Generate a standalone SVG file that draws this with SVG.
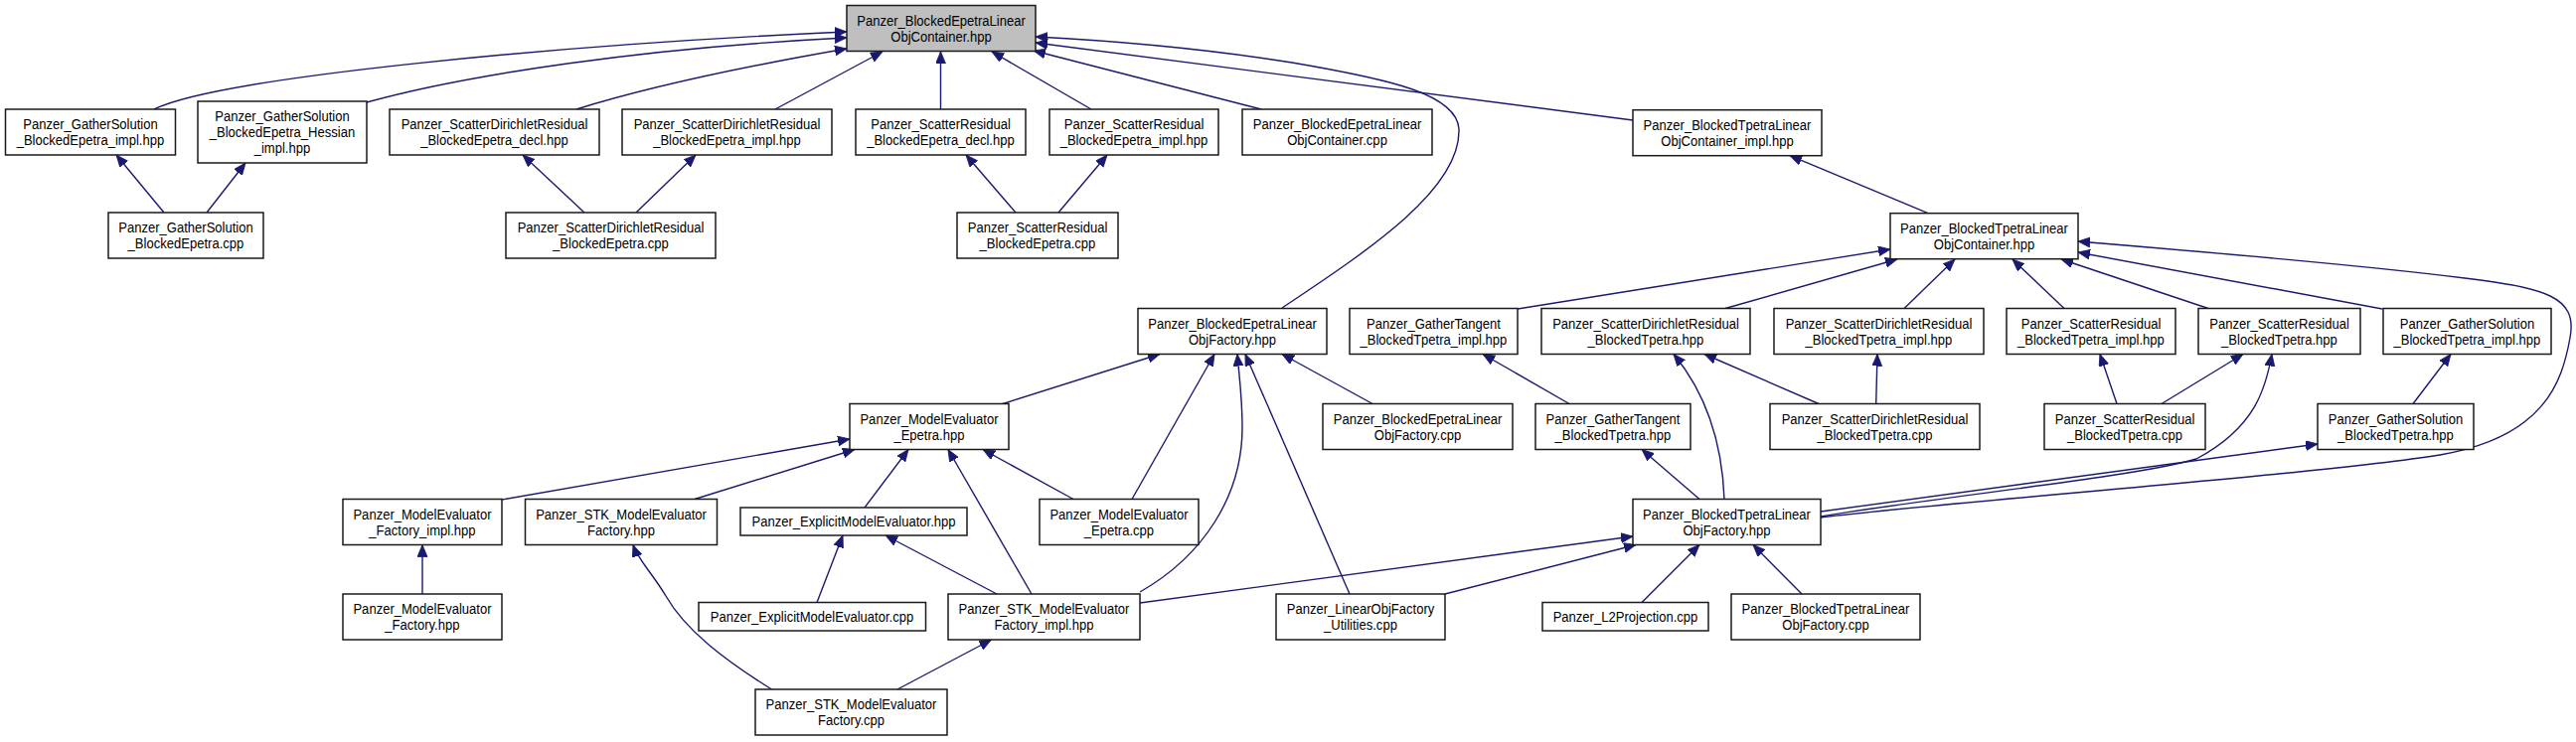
<svg xmlns="http://www.w3.org/2000/svg" width="2592" height="747" viewBox="0 0 2592 747">
<defs>
<style>
.n rect{fill:#ffffff;stroke:#1a1a1a;stroke-width:1.5}
.n.root rect{fill:#bfbfbf}
.n text{font-family:"Liberation Sans",Arial,sans-serif;font-size:15px;fill:#000;text-anchor:middle;transform-box:fill-box;transform-origin:center;transform:scaleX(0.87)}
.e path{fill:none;stroke:#191970;stroke-width:1.4;marker-end:url(#ah)}
</style>
<marker id="ah" markerUnits="userSpaceOnUse" markerWidth="13" markerHeight="11" refX="12" refY="5" orient="auto" viewBox="0 0 13 11"><path d="M0,0 L12,5 L0,10 z" fill="#191970" stroke="#191970" stroke-width="0.8"/></marker>
</defs>
<rect width="2592" height="747" fill="#ffffff"/>
<g id="connectors" class="e">
<path d="M155,110 C220,78 560,45 852,32"/>
<path d="M369,103 C470,75 650,48 852,38"/>
<path d="M580,110 C660,85 760,65 852,49"/>
<path d="M780,110 L888,52"/>
<path d="M946.5,110 L946.5,52"/>
<path d="M1098,110 L998,52"/>
<path d="M1269,110 L1040,51"/>
<path d="M1643,121 L1042,43"/>
<path d="M1290,310 C1380,250 1470,190 1468,130 C1466,95 1400,80 1300,63 C1200,47 1100,40 1042,37"/>
<path d="M165,214 L117,156"/>
<path d="M208,214 L247,164"/>
<path d="M588,214 L526,156"/>
<path d="M640,214 L700,156"/>
<path d="M1022,214 L972,156"/>
<path d="M1065,214 L1114,156"/>
<path d="M1940,214.7 L1801,156.7"/>
<path d="M1527,311 L1902,251"/>
<path d="M1736,310.5 L1909,261"/>
<path d="M1916,310.5 L1967,261"/>
<path d="M2077,310.5 L2025,261"/>
<path d="M2222,310.5 L2074,261"/>
<path d="M2397,311 L2091,254"/>
<path d="M1832,521 C1960,505 2330,478 2455,458 C2560,440 2578,385 2586,340 C2594,298 2560,290 2480,280 C2370,266 2200,252 2091,243"/>
<path d="M1009,406.5 L1167,356.5"/>
<path d="M1381,406.5 L1290,356.5"/>
<path d="M1139,502.5 L1222,356.5"/>
<path d="M1147,596 C1210,560 1250,500 1250,430 C1250,400 1247,380 1245,356.5"/>
<path d="M1358,598 L1253,356.5"/>
<path d="M1579,406.5 L1492,356.5"/>
<path d="M1735,502.5 C1733,450 1720,400 1684,356.5"/>
<path d="M1830,406.5 L1715,356.5"/>
<path d="M1887.7,406.5 L1889,356.5"/>
<path d="M2130,406.5 L2113,356.5"/>
<path d="M2175,406.5 L2257,356.5"/>
<path d="M1832,520 C1950,500 2150,480 2210,462 C2270,430 2280,390 2286,356.5"/>
<path d="M2428,406.5 L2466,356.5"/>
<path d="M1710,502.5 L1652,452.5"/>
<path d="M1832,515 L2332,447"/>
<path d="M505,503 L855,442"/>
<path d="M699,502.5 L860,452.5"/>
<path d="M870,511 L914,452.5"/>
<path d="M1038,598 L954,452.5"/>
<path d="M1080,502.5 L989,452.5"/>
<path d="M425,598 L425,548.5"/>
<path d="M776.5,694 C730,665 690,635 670,600 C655,575 643,565 637,548.5"/>
<path d="M822,606.5 L848,539"/>
<path d="M1003,598 L891,539"/>
<path d="M903,694 L997.5,644"/>
<path d="M1147,607 L1643,540"/>
<path d="M1454,598 L1646,548.5"/>
<path d="M1652,606.5 L1710,548.5"/>
<path d="M1813,598 L1764,548.5"/>
</g>
<g id="n0" class="n root"><rect x="852" y="5.5" width="190" height="46"/><text x="947" y="26">Panzer_BlockedEpetraLinear</text><text x="947" y="42">ObjContainer.hpp</text></g>
<g id="n1" class="n"><rect x="5.5" y="110" width="171" height="46"/><text x="91" y="130.5">Panzer_GatherSolution</text><text x="91" y="146.5">_BlockedEpetra_impl.hpp</text></g>
<g id="n2" class="n"><rect x="199" y="102" width="170" height="62"/><text x="284" y="122.5">Panzer_GatherSolution</text><text x="284" y="138.5">_BlockedEpetra_Hessian</text><text x="284" y="154.5">_impl.hpp</text></g>
<g id="n3" class="n"><rect x="392" y="110" width="211" height="46"/><text x="497.5" y="130.5">Panzer_ScatterDirichletResidual</text><text x="497.5" y="146.5">_BlockedEpetra_decl.hpp</text></g>
<g id="n4" class="n"><rect x="626" y="110" width="211" height="46"/><text x="731.5" y="130.5">Panzer_ScatterDirichletResidual</text><text x="731.5" y="146.5">_BlockedEpetra_impl.hpp</text></g>
<g id="n5" class="n"><rect x="861" y="110" width="171" height="46"/><text x="946.5" y="130.5">Panzer_ScatterResidual</text><text x="946.5" y="146.5">_BlockedEpetra_decl.hpp</text></g>
<g id="n6" class="n"><rect x="1056" y="110" width="170" height="46"/><text x="1141" y="130.5">Panzer_ScatterResidual</text><text x="1141" y="146.5">_BlockedEpetra_impl.hpp</text></g>
<g id="n7" class="n"><rect x="1250" y="110" width="191" height="46"/><text x="1345.5" y="130.5">Panzer_BlockedEpetraLinear</text><text x="1345.5" y="146.5">ObjContainer.cpp</text></g>
<g id="n8" class="n"><rect x="1643" y="110.7" width="190" height="46"/><text x="1738" y="131.2">Panzer_BlockedTpetraLinear</text><text x="1738" y="147.2">ObjContainer_impl.hpp</text></g>
<g id="n9" class="n"><rect x="109" y="214" width="156" height="46"/><text x="187" y="234.5">Panzer_GatherSolution</text><text x="187" y="250.5">_BlockedEpetra.cpp</text></g>
<g id="n10" class="n"><rect x="509" y="214" width="211" height="46"/><text x="614.5" y="234.5">Panzer_ScatterDirichletResidual</text><text x="614.5" y="250.5">_BlockedEpetra.cpp</text></g>
<g id="n11" class="n"><rect x="963" y="214" width="162" height="46"/><text x="1044" y="234.5">Panzer_ScatterResidual</text><text x="1044" y="250.5">_BlockedEpetra.cpp</text></g>
<g id="n12" class="n"><rect x="1902" y="214.7" width="189" height="46"/><text x="1996.5" y="235.2">Panzer_BlockedTpetraLinear</text><text x="1996.5" y="251.2">ObjContainer.hpp</text></g>
<g id="n13" class="n"><rect x="1145" y="310.5" width="190" height="46"/><text x="1240" y="331">Panzer_BlockedEpetraLinear</text><text x="1240" y="347">ObjFactory.hpp</text></g>
<g id="n14" class="n"><rect x="1358" y="310.5" width="169" height="46"/><text x="1442.5" y="331">Panzer_GatherTangent</text><text x="1442.5" y="347">_BlockedTpetra_impl.hpp</text></g>
<g id="n15" class="n"><rect x="1551" y="310.5" width="210" height="46"/><text x="1656" y="331">Panzer_ScatterDirichletResidual</text><text x="1656" y="347">_BlockedTpetra.hpp</text></g>
<g id="n16" class="n"><rect x="1785" y="310.5" width="211" height="46"/><text x="1890.5" y="331">Panzer_ScatterDirichletResidual</text><text x="1890.5" y="347">_BlockedTpetra_impl.hpp</text></g>
<g id="n17" class="n"><rect x="2019" y="310.5" width="170" height="46"/><text x="2104" y="331">Panzer_ScatterResidual</text><text x="2104" y="347">_BlockedTpetra_impl.hpp</text></g>
<g id="n18" class="n"><rect x="2212" y="310.5" width="163" height="46"/><text x="2293.5" y="331">Panzer_ScatterResidual</text><text x="2293.5" y="347">_BlockedTpetra.hpp</text></g>
<g id="n19" class="n"><rect x="2398" y="310.5" width="169" height="46"/><text x="2482.5" y="331">Panzer_GatherSolution</text><text x="2482.5" y="347">_BlockedTpetra_impl.hpp</text></g>
<g id="n20" class="n"><rect x="855" y="406.5" width="160" height="46"/><text x="935" y="427">Panzer_ModelEvaluator</text><text x="935" y="443">_Epetra.hpp</text></g>
<g id="n21" class="n"><rect x="1331" y="406.5" width="191" height="46"/><text x="1426.5" y="427">Panzer_BlockedEpetraLinear</text><text x="1426.5" y="443">ObjFactory.cpp</text></g>
<g id="n22" class="n"><rect x="1545" y="406.5" width="156" height="46"/><text x="1623" y="427">Panzer_GatherTangent</text><text x="1623" y="443">_BlockedTpetra.hpp</text></g>
<g id="n23" class="n"><rect x="1781" y="406.5" width="211" height="46"/><text x="1886.5" y="427">Panzer_ScatterDirichletResidual</text><text x="1886.5" y="443">_BlockedTpetra.cpp</text></g>
<g id="n24" class="n"><rect x="2057" y="406.5" width="162" height="46"/><text x="2138" y="427">Panzer_ScatterResidual</text><text x="2138" y="443">_BlockedTpetra.cpp</text></g>
<g id="n25" class="n"><rect x="2332" y="406.5" width="157" height="46"/><text x="2410.5" y="427">Panzer_GatherSolution</text><text x="2410.5" y="443">_BlockedTpetra.hpp</text></g>
<g id="n26" class="n"><rect x="345" y="502.5" width="160" height="46"/><text x="425" y="523">Panzer_ModelEvaluator</text><text x="425" y="539">_Factory_impl.hpp</text></g>
<g id="n27" class="n"><rect x="528.5" y="502.5" width="193" height="46"/><text x="625" y="523">Panzer_STK_ModelEvaluator</text><text x="625" y="539">Factory.hpp</text></g>
<g id="n28" class="n"><rect x="745" y="511" width="228" height="28"/><text x="859" y="530.5">Panzer_ExplicitModelEvaluator.hpp</text></g>
<g id="n29" class="n"><rect x="1046" y="502.5" width="160" height="46"/><text x="1126" y="523">Panzer_ModelEvaluator</text><text x="1126" y="539">_Epetra.cpp</text></g>
<g id="n30" class="n"><rect x="1643" y="502.5" width="189" height="46"/><text x="1737.5" y="523">Panzer_BlockedTpetraLinear</text><text x="1737.5" y="539">ObjFactory.hpp</text></g>
<g id="n31" class="n"><rect x="345" y="598" width="160" height="46"/><text x="425" y="618.5">Panzer_ModelEvaluator</text><text x="425" y="634.5">_Factory.hpp</text></g>
<g id="n32" class="n"><rect x="703" y="606.5" width="228.5" height="28.5"/><text x="817" y="626">Panzer_ExplicitModelEvaluator.cpp</text></g>
<g id="n33" class="n"><rect x="954" y="598" width="193" height="46"/><text x="1050.5" y="618.5">Panzer_STK_ModelEvaluator</text><text x="1050.5" y="634.5">Factory_impl.hpp</text></g>
<g id="n34" class="n"><rect x="1284" y="598" width="170" height="46"/><text x="1369" y="618.5">Panzer_LinearObjFactory</text><text x="1369" y="634.5">_Utilities.cpp</text></g>
<g id="n35" class="n"><rect x="1552" y="606.5" width="167" height="28.5"/><text x="1635.5" y="626">Panzer_L2Projection.cpp</text></g>
<g id="n36" class="n"><rect x="1742" y="598" width="190" height="46"/><text x="1837" y="618.5">Panzer_BlockedTpetraLinear</text><text x="1837" y="634.5">ObjFactory.cpp</text></g>
<g id="n37" class="n"><rect x="760" y="694" width="193" height="46"/><text x="856.5" y="714.5">Panzer_STK_ModelEvaluator</text><text x="856.5" y="730.5">Factory.cpp</text></g>
</svg>
